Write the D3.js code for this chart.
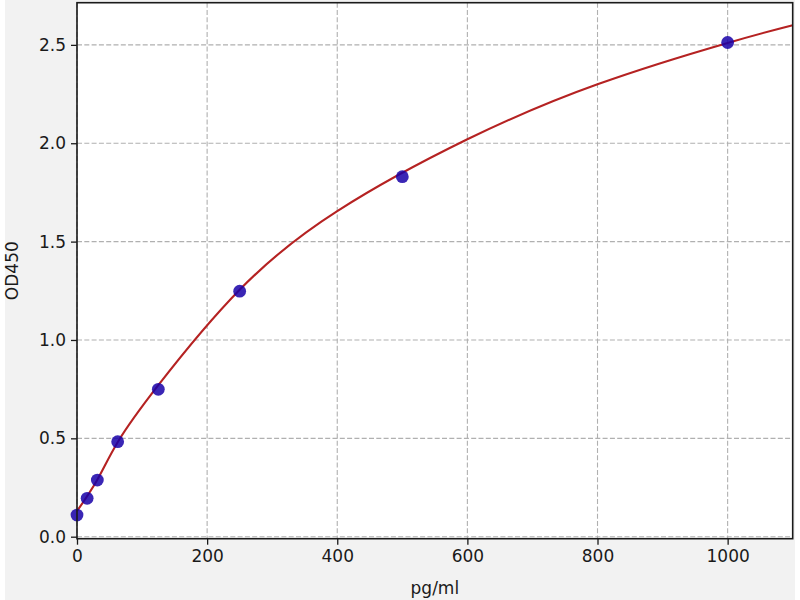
<!DOCTYPE html>
<html>
<head>
<meta charset="utf-8">
<script src="https://cdn.jsdelivr.net/npm/d3@7"></script>
<style>
  html, body { margin: 0; padding: 0; background: #ffffff; }
  svg { display: block; }
  text { font-family: "DejaVu Sans", sans-serif; fill: #1a1a1a; }
</style>
</head>
<body>
<div id="chart"></div>
<script>
// Standard concentrations (pg/ml) and measured OD450
const standardsX = [0, 15.6, 31.25, 62.5, 125, 250, 500, 1000];
const standardsY = [0.110, 0.195, 0.288, 0.483, 0.749, 1.248, 1.830, 2.512];

const curveX = [0, 31.25, 62.5, 125, 250, 400, 600, 800, 1000, 1100];
const curveY = [0.13, 0.29, 0.48, 0.77, 1.255, 1.655, 2.02, 2.30, 2.51, 2.60];

// Tick values
const xTicks = [0, 200, 400, 600, 800, 1000];
const yTicks = [0.0, 0.5, 1.0, 1.5, 2.0, 2.5];

const xLabel = "pg/ml";
const yLabel = "OD450";

const W = 800, H = 600;
const mLeft = 77, mRight = 792.7, mTop = 2.7, mBottom = 538.7;

const svg = d3.select("#chart").append("svg")
  .attr("width", W).attr("height", H);

// figure background
svg.append("rect").attr("x", 5).attr("y", 0).attr("width", 790).attr("height", H)
  .attr("fill", "#f2f2f2");

// plot area
svg.append("rect").attr("x", mLeft).attr("y", mTop)
  .attr("width", mRight - mLeft).attr("height", mBottom - mTop)
  .attr("fill", "#ffffff");

const x = d3.scaleLinear().domain([0, 1100]).range([mLeft, mRight]);
const y = d3.scaleLinear().domain([-0.0102, 2.7144]).range([mBottom, mTop]);

// grid
const grid = svg.append("g").attr("stroke", "#b0b0b0").attr("stroke-width", 1.1)
  .attr("stroke-dasharray", "5,2.3").attr("fill", "none");
grid.selectAll("line.v").data(xTicks).join("line").attr("class", "v")
  .attr("x1", d => x(d)).attr("x2", d => x(d)).attr("y1", mTop).attr("y2", mBottom);
grid.selectAll("line.h").data(yTicks).join("line").attr("class", "h")
  .attr("x1", mLeft).attr("x2", mRight).attr("y1", d => y(d)).attr("y2", d => y(d));

// fitted curve
const line = d3.line().x(d => x(d[0])).y(d => y(d[1])).curve(d3.curveNatural);
const curveData = curveX.map((v, i) => [v, curveY[i]]);
svg.append("path").datum(curveData)
  .attr("d", line).attr("fill", "none")
  .attr("stroke", "#b52222").attr("stroke-width", 2.1);

// standard points
svg.append("g").selectAll("circle")
  .data(standardsX.map((v, i) => [v, standardsY[i]]))
  .join("circle")
  .attr("cx", d => x(d[0])).attr("cy", d => y(d[1])).attr("r", 6.4)
  .attr("fill", "#1800a8").attr("fill-opacity", 0.85);

// axes
const xAxis = d3.axisBottom(x).tickValues(xTicks).tickFormat(d3.format("d"))
  .tickSize(6).tickPadding(5);
const yAxis = d3.axisLeft(y).tickValues(yTicks).tickFormat(d3.format(".1f"))
  .tickSize(6).tickPadding(5);

const gx = svg.append("g").attr("transform", `translate(0,${mBottom})`).call(xAxis);
const gy = svg.append("g").attr("transform", `translate(${mLeft},0)`).call(yAxis);
[gx, gy].forEach(g => {
  g.select(".domain").remove();
  g.selectAll(".tick line").attr("stroke", "#1a1a1a").attr("stroke-width", 1.3);
  g.selectAll(".tick text").attr("font-size", "17px")
    .attr("font-family", "DejaVu Sans, sans-serif").attr("fill", "#1a1a1a");
});

// spines
svg.append("rect").attr("x", mLeft).attr("y", mTop)
  .attr("width", mRight - mLeft).attr("height", mBottom - mTop)
  .attr("fill", "none").attr("stroke", "#1a1a1a").attr("stroke-width", 1.6);

// axis labels
svg.append("text").attr("x", (mLeft + mRight) / 2).attr("y", 594)
  .attr("text-anchor", "middle").attr("font-size", "17px").text(xLabel);
svg.append("text")
  .attr("transform", `translate(18,${(mTop + mBottom) / 2}) rotate(-90)`)
  .attr("text-anchor", "middle").attr("font-size", "17px").text(yLabel);
</script>
</body>
</html>
